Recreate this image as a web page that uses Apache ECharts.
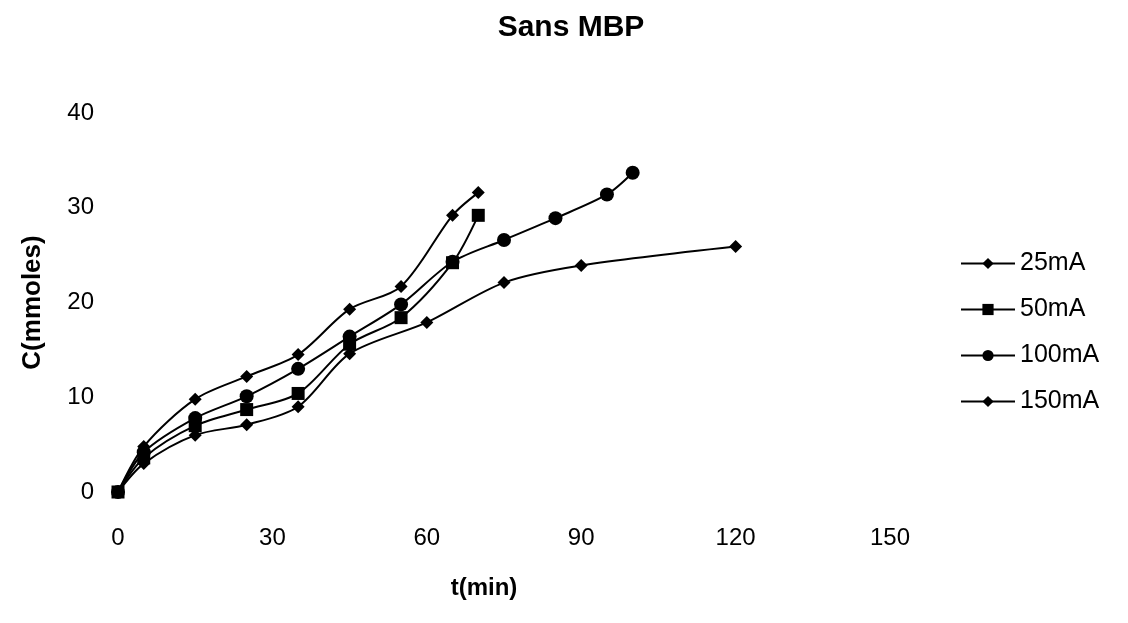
<!DOCTYPE html>
<html>
<head>
<meta charset="utf-8">
<script src="https://cdn.jsdelivr.net/npm/echarts@6/dist/echarts.min.js"></script>
<style>
  html, body { margin: 0; padding: 0; background: #fff; }
  #main { width: 1128px; height: 623px; }
</style>
</head>
<body>
<div id="main"></div>
<script>
// values
const xTicks = [0, 30, 60, 90, 120, 150]
const yTicks = [0, 10, 20, 30, 40]

const t25 = [0, 5, 15, 25, 35, 45, 60, 75, 90, 120]
const c25 = [0, 3.0, 6.0, 7.1, 9.0, 14.6, 17.9, 22.1, 23.9, 25.9]

const t50 = [0, 5, 15, 25, 35, 45, 55, 65, 70]
const c50 = [0, 3.6, 7.0, 8.7, 10.4, 15.6, 18.4, 24.2, 29.2]

const t100 = [0, 5, 15, 25, 35, 45, 55, 65, 75, 85, 95, 100]
const c100 = [0, 4.2, 7.8, 10.1, 13.0, 16.4, 19.8, 24.3, 26.6, 28.9, 31.4, 33.7]

const t150 = [0, 5, 15, 25, 35, 45, 55, 65, 70]
const c150 = [0, 4.8, 9.8, 12.2, 14.5, 19.3, 21.7, 29.2, 31.6]

const font = 'Liberation Sans, Arial, sans-serif'
const pair = (xs, ys) => xs.map((x, i) => [x, ys[i]])

const mkSeries = (name, xs, ys, symbol, size, z) => ({
  name: name,
  type: 'line',
  data: pair(xs, ys),
  smooth: 0.3,
  symbol: symbol,
  symbolSize: size,
  z: z,
  lineStyle: { color: '#000', width: 2 },
  itemStyle: { color: '#000' },
})

const chart = echarts.init(document.getElementById('main'))
const option = {
  animation: false,
  backgroundColor: '#fff',
  title: {
    text: 'Sans MBP',
    left: 566,
    top: 8,
    textAlign: 'center',
    textStyle: { fontFamily: font, fontSize: 30, fontWeight: 'bold', color: '#000' },
  },
  grid: { left: 118, right: 238, top: 113, bottom: 131 },
  legend: {
    orient: 'vertical',
    left: 955,
    top: 246,
    itemWidth: 54,
    itemHeight: 14,
    itemGap: 21,
    textStyle: { fontFamily: font, fontSize: 25, color: '#000' },
    data: ['25mA', '50mA', '100mA', '150mA'],
  },
  xAxis: {
    type: 'value',
    min: 0,
    max: 150,
    interval: 30,
    name: 't(min)',
    nameLocation: 'middle',
    nameGap: 84,
    nameTextStyle: {
      fontFamily: font, fontSize: 24, fontWeight: 'bold', color: '#000',
      padding: [0, 40, 0, 0],
    },
    axisLine: { show: false },
    axisTick: { show: false },
    splitLine: { show: false },
    axisLabel: {
      margin: 34,
      fontFamily: font,
      fontSize: 24,
      color: '#000',
      formatter: v => (xTicks.includes(v) ? String(v) : ''),
    },
  },
  yAxis: {
    type: 'value',
    min: 0,
    max: 40,
    interval: 10,
    name: 'C(mmoles)',
    nameLocation: 'middle',
    nameGap: 72,
    nameTextStyle: { fontFamily: font, fontSize: 26, fontWeight: 'bold', color: '#000' },
    axisLine: { show: false },
    axisTick: { show: false },
    splitLine: { show: false },
    axisLabel: {
      margin: 24,
      fontFamily: font,
      fontSize: 24,
      color: '#000',
      formatter: v => (yTicks.includes(v) ? String(v) : ''),
    },
  },
  series: [
    mkSeries('25mA', t25, c25, 'diamond', 13, 2),
    mkSeries('50mA', t50, c50, 'rect', 13, 5),
    mkSeries('100mA', t100, c100, 'circle', 14, 3),
    mkSeries('150mA', t150, c150, 'diamond', 13, 4),
  ],
}
option && chart.setOption(option)
</script>
</body>
</html>
